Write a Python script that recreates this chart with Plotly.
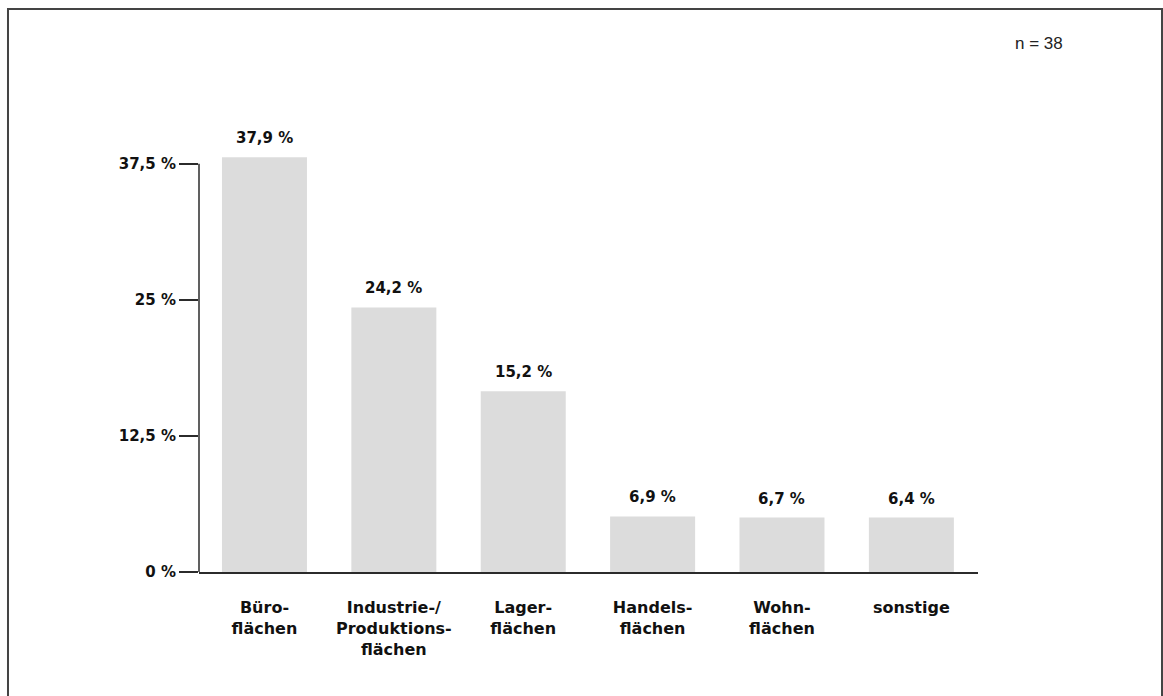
import plotly.graph_objects as go

categories = ["Büro-<br>flächen", "Industrie-/<br>Produktions-<br>flächen", "Lager-<br>flächen",
              "Handels-<br>flächen", "Wohn-<br>flächen", "sonstige"]
bar_heights = [38.1, 24.3, 16.6, 5.1, 5.0, 5.0]
value_labels = ["37,9 %", "24,2 %", "15,2 %", "6,9 %", "6,7 %", "6,4 %"]
tick_vals = [0, 12.5, 25, 37.5]
tick_text = ["0 %", "12,5 %", "25 %", "37,5 %"]
sample_note = "n = 38"

BOLD = "DejaVu Sans"
AXC = "#2b2b2b"

fig = go.Figure()
fig.add_trace(go.Bar(
    x=list(range(len(categories))), y=bar_heights,
    marker=dict(color="#dcdcdc", line=dict(width=0)),
    width=0.657, hoverinfo="skip",
))

for i, (h, t) in enumerate(zip(bar_heights, value_labels)):
    fig.add_annotation(x=i, y=h, text=f"<b>{t}</b>", showarrow=False,
                       xref="x", yref="y", yanchor="bottom", yshift=8,
                       font=dict(family=BOLD, size=15, color="#111"))

fig.add_annotation(x=1.0, y=1.0, xref="paper", yref="paper", text=sample_note,
                   showarrow=False, xanchor="center", yanchor="middle",
                   xshift=61, yshift=39,
                   font=dict(family="Liberation Sans", size=17, color="#222"))

# y axis line from 0 to top tick
fig.add_shape(type="line", xref="paper", yref="y", x0=0, x1=0,
              y0=tick_vals[0], y1=tick_vals[-1], line=dict(color=AXC, width=1.5))
# frame around the whole picture
fig.add_shape(type="rect", xref="paper", yref="paper",
              x0=-0.2452, x1=1.2362, y0=-0.30, y1=1.149,
              line=dict(color="#444", width=2), fillcolor="rgba(0,0,0,0)")

fig.update_layout(
    width=1163, height=696,
    margin=dict(l=199, r=185, t=82, b=124),
    plot_bgcolor="white", paper_bgcolor="white",
    showlegend=False,
    xaxis=dict(
        range=[-0.506, 5.515], tickmode="array",
        tickvals=list(range(len(categories))),
        ticktext=[f"<b>{c}</b>" for c in categories],
        showline=True, linecolor=AXC, linewidth=1.5, ticks="",
        showgrid=False, zeroline=False,
        tickfont=dict(family=BOLD, size=16, color="#111"),
        ticklabelstandoff=20,
    ),
    yaxis=dict(
        range=[0, 45], tickmode="array", tickvals=tick_vals,
        ticktext=[f"<b>{t}</b>" for t in tick_text],
        showline=False, showgrid=False, zeroline=False,
        ticks="outside", ticklen=19, tickwidth=1.5, tickcolor=AXC,
        tickfont=dict(family=BOLD, size=15, color="#111"),
    ),
)

fig.write_html("out.html", config={"displayModeBar": False},
               post_script="document.body.style.margin='0';")
